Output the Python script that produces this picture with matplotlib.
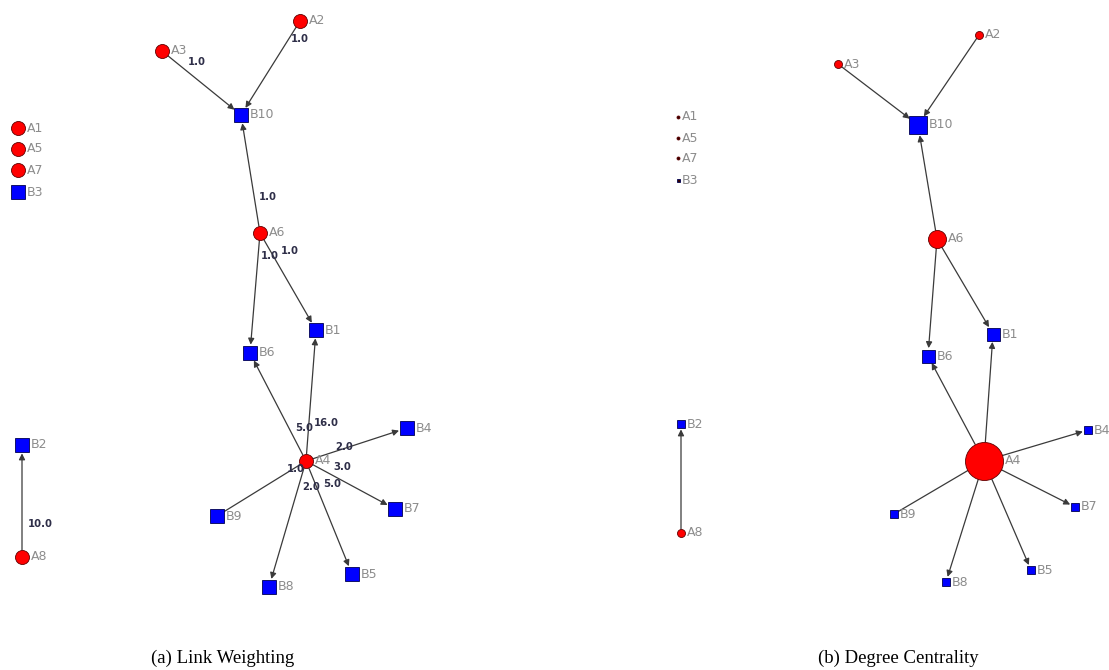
import matplotlib
matplotlib.use("Agg")
import matplotlib.pyplot as plt

# node layout, pixel coordinates in each panel (x right, y down)
NODES = ["A1", "A2", "A3", "A4", "A5", "A6", "A7", "A8",
         "B1", "B2", "B3", "B4", "B5", "B6", "B7", "B8", "B9", "B10"]
POS_A_X = [18, 300, 162, 306, 18, 260, 18, 22, 316, 22, 18, 407, 352, 250, 395, 269, 217, 241]
POS_A_Y = [128, 21, 51, 461, 149, 233, 170, 557, 330, 445, 192, 428, 574, 353, 509, 587, 516, 115]
POS_B_X = [678, 979, 838, 984, 678, 937, 678, 681, 993, 681, 678, 1088, 1031, 928, 1075, 946, 894, 918]
POS_B_Y = [117, 35, 64, 461, 138, 239, 158, 533, 334, 424, 180, 430, 570, 356, 507, 582, 514, 125]

# directed edges with weights
EDGE_SRC = ["A3", "A2", "A6", "A6", "A6", "A4", "A4", "A4", "A4", "A4", "A4", "A4", "A8"]
EDGE_DST = ["B10", "B10", "B10", "B6", "B1", "B6", "B1", "B4", "B7", "B5", "B8", "B9", "B2"]
EDGE_W = [1.0, 1.0, 1.0, 1.0, 1.0, 5.0, 16.0, 2.0, 3.0, 5.0, 2.0, 1.0, 10.0]
EDGE_ARROW = [True] * 11 + [False, True]
# weight label anchors in panel (a)
WLAB_X = [197, 300, 268, 270, 290, 304, 326, 344, 342, 332, 311, 296, 40]
WLAB_Y = [62, 39, 197, 256, 251, 428, 423, 447, 467, 484, 487, 469, 524]

RED, BLUE = "#ff0000", "#0000ff"
PX = 0.72  # points per pixel at dpi 100


def degree(node):
    return EDGE_SRC.count(node) + EDGE_DST.count(node)


def draw_panel(ax, xs, ys, size_px, show_weights):
    pos = {n: (x, y) for n, x, y in zip(NODES, xs, ys)}
    for i, (s, d) in enumerate(zip(EDGE_SRC, EDGE_DST)):
        ax.annotate(
            "", xy=pos[d], xytext=pos[s],
            arrowprops=dict(
                arrowstyle="-|>" if EDGE_ARROW[i] else "-",
                color="#3a3a3a", lw=0.9, mutation_scale=9,
                shrinkA=size_px[s] / 2 * PX, shrinkB=size_px[d] / 2 * PX + 1,
            ),
            zorder=1,
        )
        if show_weights:
            ax.text(WLAB_X[i], WLAB_Y[i], f"{EDGE_W[i]:.1f}", fontsize=7.3,
                    color="#2e2e48", fontweight="semibold",
                    ha="center", va="center", zorder=3)
    for n in NODES:
        x, y = pos[n]
        d = size_px[n]
        is_a = n.startswith("A")
        tiny = d < 5
        ax.plot(x, y, marker="o" if is_a else "s", ms=d * PX,
                mfc="#300000" if tiny else (RED if is_a else BLUE),
                mec="#600000" if is_a else "#000050",
                mew=0.6, ls="none", zorder=2)
        ax.text(x + d / 2 + 2, y, n, fontsize=9, color="#8c8c8c",
                ha="left", va="center", zorder=3)


fig = plt.figure(figsize=(11.09, 6.70), dpi=100)
ax = fig.add_axes([0, 0, 1, 1])
ax.set_xlim(0, 1109)
ax.set_ylim(670, 0)
ax.axis("off")

# (a) uniform node sizes, weights shown
draw_panel(ax, POS_A_X, POS_A_Y, {n: 14 for n in NODES}, True)
# (b) node size scaled by degree centrality
draw_panel(ax, POS_B_X, POS_B_Y, {n: 3 + 5 * degree(n) for n in NODES}, False)

ax.text(223, 658, "(a) Link Weighting", fontsize=13.5, family="Liberation Serif",
        ha="center", va="center")
ax.text(898, 658, "(b) Degree Centrality", fontsize=13.5, family="Liberation Serif",
        ha="center", va="center")

fig.savefig("out.png", dpi=100)
